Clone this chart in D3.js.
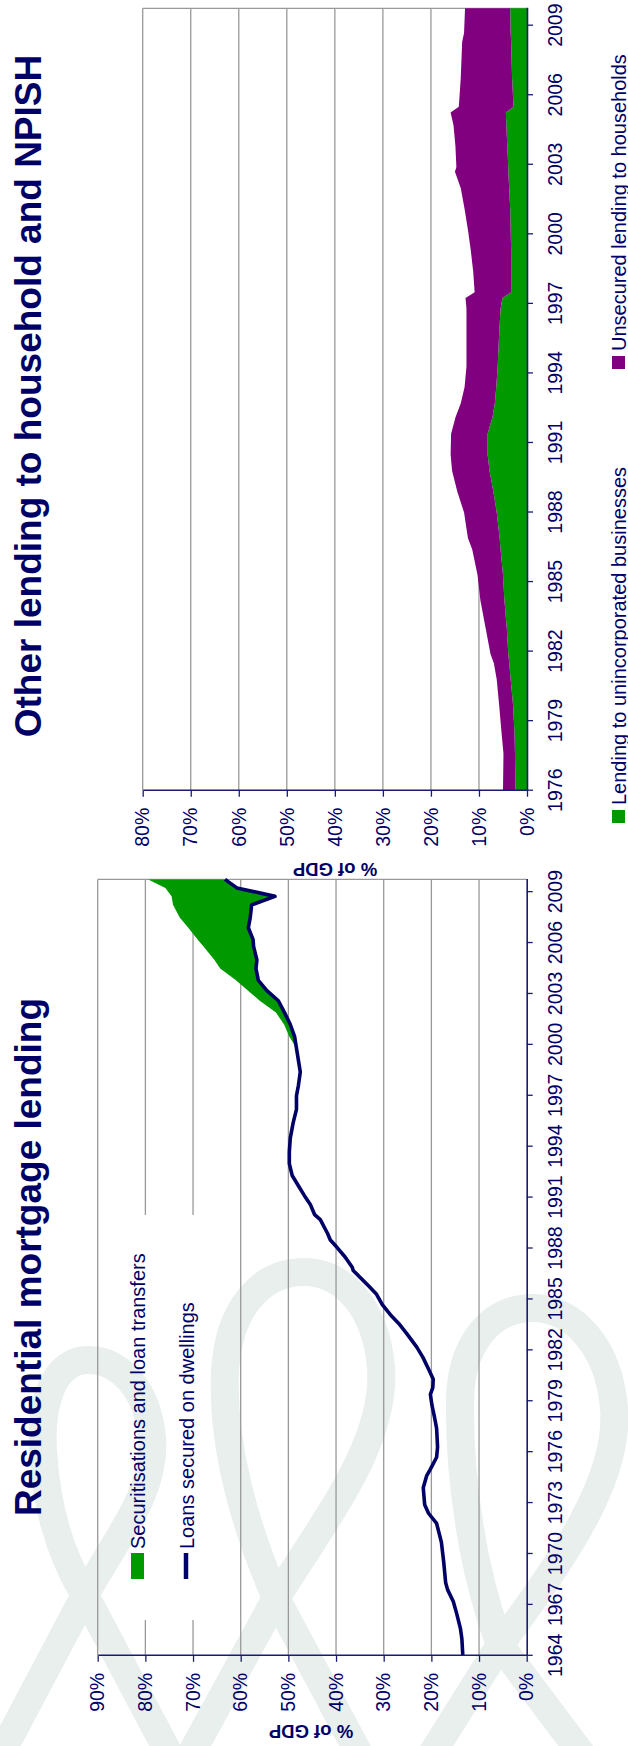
<!DOCTYPE html>
<html>
<head>
<meta charset="utf-8">
<script src="https://cdn.jsdelivr.net/npm/d3@7"></script>
<style>
  body { margin: 0; background: #fff; }
  svg { display: block; }
</style>
</head>
<body>
<div id="chart-area"></div>
<script>

// ---- DATA: residential mortgage lending (% of GDP) ----
var mortDates = [1964.0, 1965.0, 1965.6, 1966.5, 1967.2, 1967.9, 1968.3, 1969.5, 1970.7, 1971.8,
  1972.4, 1972.9, 1973.9, 1974.6, 1975.0, 1975.7, 1976.3, 1977.4, 1978.0, 1978.8,
  1979.4, 1979.8, 1980.3, 1980.9, 1981.6, 1982.2, 1983.0, 1983.6, 1984.1, 1984.7,
  1985.3, 1985.8, 1986.4, 1986.7, 1986.9, 1987.5, 1988.1, 1988.5, 1988.9, 1989.7,
  1990.0, 1990.6, 1991.1, 1991.7, 1992.3, 1993.0, 1993.7, 1994.5, 1995.4, 1996.2,
  1997.0, 1997.6, 1998.4, 1999.1, 1999.8, 2000.5, 2001.2, 2001.9, 2002.6, 2003.2,
  2003.8, 2004.5, 2005.0, 2005.8, 2006.2, 2006.9, 2007.5, 2008.25, 2008.75, 2009.25, 2009.75];
var loansSecured = [13.4, 13.6, 13.9, 14.7, 15.4, 16.6, 17.0, 17.4, 17.9, 18.9,
  20.6, 21.4, 21.7, 21.0, 20.2, 18.9, 18.7, 18.9, 19.3, 19.9,
  20.2, 19.7, 19.6, 20.6, 21.8, 23.1, 25.2, 26.9, 28.6, 30.3,
  31.5, 33.2, 35.3, 36.4, 36.6, 38.1, 39.9, 41.2, 41.8, 43.3,
  44.5, 45.4, 46.6, 47.9, 49.2, 49.8, 49.8, 49.6, 49.0, 48.3,
  48.3, 47.9, 47.5, 47.9, 48.3, 48.7, 49.6, 50.8, 52.1, 54.5,
  56.3, 56.8, 56.6, 57.3, 57.4, 58.4, 58.0, 57.7, 52.8, 60.8, 63.3];
var securitisations = [0, 0, 0, 0, 0, 0, 0, 0, 0, 0,
  0, 0, 0, 0, 0, 0, 0, 0, 0, 0,
  0, 0, 0, 0, 0, 0, 0, 0, 0, 0,
  0, 0, 0, 0, 0, 0, 0, 0, 0, 0,
  0, 0, 0, 0, 0, 0, 0, 0, 0, 0,
  0, 0, 0, 0, 0, 1.1, 1.3, 1.8, 3.9, 4.0,
  4.7, 7.5, 8.9, 10.5, 11.6, 12.6, 14.8, 16.5, 21.7, 15.0, 16.1];

// ---- DATA: other lending to household and NPISH (% of GDP) ----
var otherDates = [1976.0, 1977.6, 1978.5, 1979.7, 1980.8, 1981.5, 1981.9, 1983.0, 1984.2, 1985.3,
  1986.4, 1986.9, 1988.0, 1988.9, 1989.8, 1990.5, 1991.4, 1992.1, 1992.7, 1993.4,
  1994.3, 1995.7, 1996.8, 1997.25, 1997.5, 1998.4, 1999.3, 2000.2, 2001.1, 2002.0,
  2002.7, 2002.9, 2003.8, 2004.7, 2005.25, 2005.5, 2006.7, 2008.3, 2008.7, 2009.75];
var businessLending = [2.4, 2.5, 2.6, 2.9, 3.4, 3.7, 3.9, 4.2, 4.7, 5.0,
  5.5, 5.7, 6.3, 7.0, 7.8, 8.2, 8.2, 7.2, 6.7, 6.4,
  6.1, 5.8, 5.5, 5.1, 3.3, 3.3, 3.3, 3.4, 3.5, 3.7,
  3.9, 3.9, 4.1, 4.3, 4.4, 2.8, 3.1, 3.3, 3.4, 3.5];
var unsecuredLending = [2.6, 2.4, 2.7, 2.9, 2.9, 3.2, 3.7, 4.4, 5.0, 5.3,
  5.9, 6.6, 6.8, 7.5, 7.8, 7.7, 7.6, 7.7, 7.1, 6.6,
  6.5, 6.8, 7.1, 7.7, 7.6, 7.9, 8.4, 8.9, 9.5, 10.1,
  11.1, 10.8, 10.8, 11.0, 11.5, 11.4, 10.7, 10.2, 9.7, 9.4];

// ---- TICKS ----
var mortYearTicks = d3.range(1964, 2010, 3);
var otherYearTicks = d3.range(1976, 2010, 3);
var mortValueTicks = d3.range(0, 91, 10);
var otherValueTicks = d3.range(0, 81, 10);

var width = 628,
    height = 1746;

var navy = "#000066",
    axisNavy = "#1a1a73",
    grid = "#999999",
    green = "#009900",
    purple = "#800080",
    font = "'Liberation Sans', Arial, Helvetica, sans-serif";

var svg = d3.select("#chart-area").append("svg")
    .attr("width", width)
    .attr("height", height);

svg.append("rect").attr("width", width).attr("height", height).attr("fill", "#fff");

// WATERMARK RIBBONS (page coordinates, decoration only)
var ribbons = [
  "M-5,1765 L85,1595 C122,1530 156,1490 152,1438 C148,1390 120,1360 88,1360 C56,1360 40,1398 43,1450 C46,1505 60,1555 85,1595 L175,1765",
  "M185,1765 L276,1598 C332,1510 386,1440 381,1368 C376,1306 342,1272 304,1272 C260,1272 228,1310 225,1372 C222,1442 243,1522 276,1598 L365,1765",
  "M425,1765 L500,1645 C562,1560 620,1480 614,1408 C609,1348 574,1308 533,1308 C492,1308 461,1342 460,1400 C459,1482 473,1572 500,1645 L590,1765"
];
svg.append("g").selectAll("path")
    .data(ribbons)
    .enter()
    .append("path")
    .attr("d", function(d) { return d; })
    .attr("fill", "none")
    .attr("stroke", "#e9efec")
    .attr("stroke-width", 28);

// whole chart is drawn in landscape and turned a quarter to the left
var g = svg.append("g")
    .attr("transform", "translate(0," + height + ") rotate(-90)");

function drawFrame(ch, x, y, yearTicks, valueTicks, gapFrom, gapTo) {
  var x0 = x.range()[0], x1 = x.range()[1],
      yb = y.range()[0], yt = y.range()[1];

  // gridlines (some stop at the legend)
  valueTicks.slice(1).forEach(function(v) {
    var segs = [[x0, x1]];
    if (gapFrom != null && y(v) > yt + 20 && y(v) < yt + 110) segs = [[x0, gapFrom], [gapTo, x1]];
    segs.forEach(function(s) {
      ch.append("line")
        .attr("x1", s[0]).attr("x2", s[1])
        .attr("y1", y(v)).attr("y2", y(v))
        .attr("stroke", grid)
        .attr("stroke-width", 1.3);
    });
  });
  ch.append("line")
    .attr("x1", x1).attr("x2", x1).attr("y1", yt).attr("y2", yb)
    .attr("stroke", grid).attr("stroke-width", 1.3);
}

function drawAxes(ch, x, y, yearTicks, valueTicks) {
  var xAxis = ch.append("g")
      .attr("transform", "translate(0," + y.range()[0] + ")")
      .call(d3.axisBottom(x).tickValues(yearTicks).tickFormat(d3.format("d"))
        .tickSize(6).tickSizeOuter(0).tickPadding(15));
  var yAxis = ch.append("g")
      .attr("transform", "translate(" + x.range()[0] + ",0)")
      .call(d3.axisLeft(y).tickValues(valueTicks).tickFormat(function(d) { return d + "%"; })
        .tickSize(6).tickSizeOuter(0).tickPadding(11));
  [xAxis, yAxis].forEach(function(a) {
    a.style("color", axisNavy);
    a.select(".domain").attr("stroke-width", 1.6);
    a.selectAll(".tick line").attr("stroke-width", 1.3);
    a.selectAll("text")
      .style("font-family", font)
      .style("font-size", "19.5px")
      .style("fill", navy);
  });
}

// ---------------- RESIDENTIAL MORTGAGE LENDING ----------------
var c1 = g.append("g");
var x1 = d3.scaleLinear().domain([1964, 2009.75]).range([90.2, 866.6]);
var y1 = d3.scaleLinear().domain([0, 90]).range([526.7, 97.7]);

var mortRows = mortDates.map(function(d, i) {
  return { year: d, loans: loansSecured[i], sec: securitisations[i] };
});

drawFrame(c1, x1, y1, mortYearTicks, mortValueTicks, 126, 531);

c1.append("path")
    .datum(mortRows.filter(function(d) { return d.year >= 1999.8; }))
    .attr("fill", green)
    .attr("d", d3.area()
      .x(function(d) { return x1(d.year); })
      .y0(function(d) { return y1(d.loans); })
      .y1(function(d) { return y1(d.loans + d.sec); }));

c1.append("path")
    .datum(mortRows)
    .attr("fill", "none")
    .attr("stroke", navy)
    .attr("stroke-width", 3.6)
    .attr("stroke-linejoin", "round")
    .attr("d", d3.line()
      .x(function(d) { return x1(d.year); })
      .y(function(d) { return y1(d.loans); }));

drawAxes(c1, x1, y1, mortYearTicks, mortValueTicks);

c1.append("text")
    .attr("x", 489).attr("y", 41)
    .attr("text-anchor", "middle")
    .style("font-family", font).style("font-size", "37px").style("font-weight", "bold")
    .style("fill", navy)
    .text("Residential mortgage lending");

c1.append("text")
    .attr("transform", "translate(15,311) rotate(-90)")
    .attr("text-anchor", "middle")
    .attr("dy", "0.35em")
    .style("font-family", font).style("font-size", "18.5px").style("font-weight", "bold")
    .style("fill", navy)
    .text("% of GDP");

// legend
c1.append("rect")
    .attr("x", 167).attr("y", 131).attr("width", 26).attr("height", 13)
    .attr("fill", green);
c1.append("line")
    .attr("x1", 167).attr("x2", 193).attr("y1", 186).attr("y2", 186)
    .attr("stroke", navy).attr("stroke-width", 4.5);
c1.selectAll(".legtext")
    .data([["Securitisations and loan transfers", 145], ["Loans secured on dwellings", 193.5]])
    .enter()
    .append("text")
    .attr("x", 197).attr("y", function(d) { return d[1]; })
    .style("font-family", font).style("font-size", "20px")
    .style("fill", navy)
    .text(function(d) { return d[0]; });

// ---------------- OTHER LENDING TO HOUSEHOLD AND NPISH ----------------
var c2 = g.append("g");
var x2 = d3.scaleLinear().domain([1976, 2009.75]).range([955.3, 1737.7]);
var y2 = d3.scaleLinear().domain([0, 80]).range([527, 142.7]);

var otherRows = otherDates.map(function(d, i) {
  return { year: d, business: businessLending[i], unsecured: unsecuredLending[i] };
});
var stack = d3.stack().keys(["business", "unsecured"])(otherRows);

drawFrame(c2, x2, y2, otherYearTicks, otherValueTicks, null, null);

c2.selectAll(".layer")
    .data(stack)
    .enter()
    .append("path")
    .attr("fill", function(d, i) { return i == 0 ? green : purple; })
    .attr("d", d3.area()
      .x(function(d) { return x2(d.data.year); })
      .y0(function(d) { return y2(d[0]); })
      .y1(function(d) { return y2(d[1]); }));

drawAxes(c2, x2, y2, otherYearTicks, otherValueTicks);

c2.append("text")
    .attr("x", 1350).attr("y", 41)
    .attr("text-anchor", "middle")
    .style("font-family", font).style("font-size", "37px").style("font-weight", "bold")
    .style("fill", navy)
    .text("Other lending to household and NPISH");

c2.append("text")
    .attr("transform", "translate(877,335) rotate(-90)")
    .attr("text-anchor", "middle")
    .attr("dy", "0.35em")
    .style("font-family", font).style("font-size", "18.5px").style("font-weight", "bold")
    .style("fill", navy)
    .text("% of GDP");

var leg2 = [
  { name: "Lending to unincorporated businesses", color: green, x: 923 },
  { name: "Unsecured lending to households", color: purple, x: 1377 }
];
c2.selectAll(".legkey")
    .data(leg2)
    .enter()
    .append("rect")
    .attr("x", function(d) { return d.x; })
    .attr("y", 612).attr("width", 13).attr("height", 13)
    .attr("fill", function(d) { return d.color; });
c2.selectAll(".legname")
    .data(leg2)
    .enter()
    .append("text")
    .attr("x", function(d) { return d.x + 18; })
    .attr("y", 625.5)
    .style("font-family", font).style("font-size", "20px")
    .style("fill", navy)
    .text(function(d) { return d.name; });

</script>
</body>
</html>
